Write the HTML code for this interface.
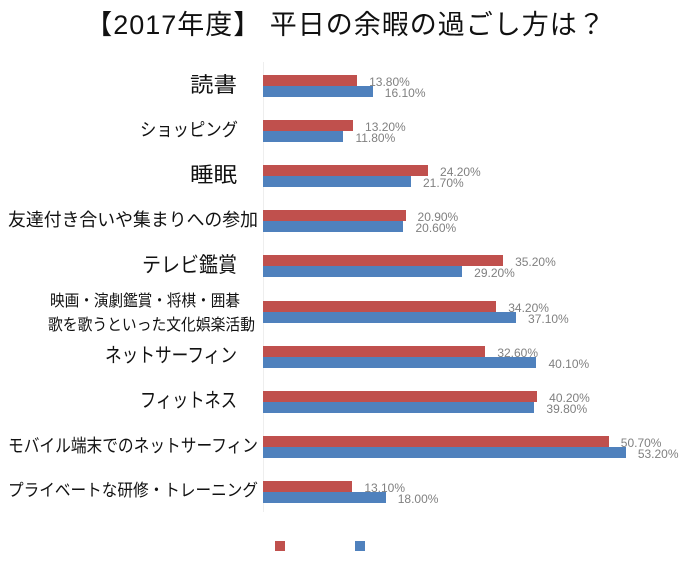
<!DOCTYPE html>
<html><head><meta charset="utf-8"><style>
body{margin:0;width:691px;height:568px;background:#fff;position:relative;overflow:hidden;font-family:"Liberation Sans","Noto Sans CJK JP",sans-serif}
.t{position:absolute;left:0;top:3px;width:691px;text-align:center;font-size:27px;color:#111;letter-spacing:1px}
.l{position:absolute;white-space:nowrap;color:#111;line-height:1;transform-origin:0 0}
.b{position:absolute;left:263px;height:11px}
.r{background:#c0504d}.u{background:#4f81bd}
.v{position:absolute;font-size:12px;color:#808080;line-height:1}
</style></head><body>
<div class="t">【2017年度】 平日の余暇の過ごし方は？</div>
<div style="position:absolute;left:263px;top:62px;width:1px;height:450px;background:#eee"></div>
<div id="c"></div>
<script>
var d=[["読書",13.8,16.1,21,190,237],["ショッピング",13.2,11.8,18,140,238],["睡眠",24.2,21.7,21,190,237],["友達付き合いや集まりへの参加",20.9,20.6,18,8,258],["テレビ鑑賞",35.2,29.2,21,142,237],["",34.2,37.1,15],["ネットサーフィン",32.6,40.1,20,105,237],["フィットネス",40.2,39.8,20,140,237],["モバイル端末でのネットサーフィン",50.7,53.2,18,8,258],["プライベートな研修・トレーニング",13.1,18.0,17,8,258]];
var h="",k=6.82,L=[];
d.forEach(function(e,i){var y=75+i*45.1;
if(e[0]){h+='<div class="l" id="L'+i+'" style="left:'+e[4]+'px;top:'+(y+11-e[3]/2-1)+'px;font-size:'+e[3]+'px">'+e[0]+'</div>';L.push(["L"+i,e[5]-e[4]]);}
h+='<div class="b r" style="top:'+y+'px;width:'+(e[1]*k)+'px"></div>';
h+='<div class="b u" style="top:'+(y+11)+'px;width:'+(e[2]*k)+'px"></div>';
h+='<div class="v" style="left:'+(263+e[1]*k+12)+'px;top:'+(y+1)+'px">'+e[1].toFixed(2)+'%</div>';
h+='<div class="v" style="left:'+(263+e[2]*k+12)+'px;top:'+(y+12)+'px">'+e[2].toFixed(2)+'%</div>';});
h+='<div class="l" id="M1" style="left:50px;top:294px;font-size:16px">映画・演劇鑑賞・将棋・囲碁</div>';
h+='<div class="l" id="M2" style="left:48px;top:318px;font-size:16px">歌を歌うといった文化娯楽活動</div>';
L.push(["M1",190],["M2",207]);
document.getElementById("c").innerHTML=h;
L.forEach(function(p){var el=document.getElementById(p[0]);var w=el.getBoundingClientRect().width;el.style.transform="scaleX("+(p[1]/w)+")";});
</script>
<div style="position:absolute;left:275px;top:541px;width:10px;height:10px;background:#c0504d"></div>
<div style="position:absolute;left:355px;top:541px;width:10px;height:10px;background:#4f81bd"></div>
</body></html>
